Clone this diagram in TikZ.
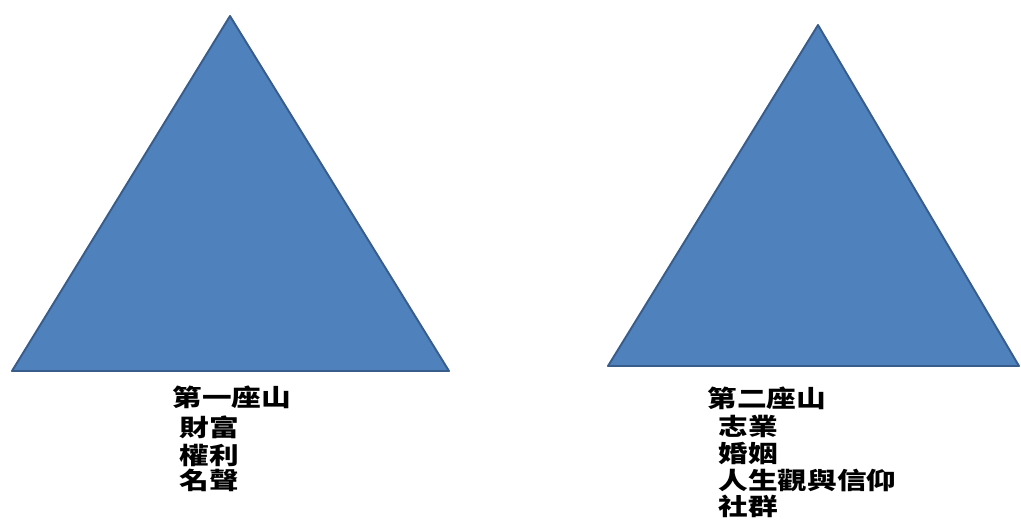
\documentclass[tikz,border=0pt]{standalone}
\usepackage{fontspec}
\newfontfamily\cjk{Noto Sans CJK TC}
\definecolor{hillfill}{HTML}{4F81BD}
\definecolor{hillline}{HTML}{385D8A}

\begin{document}
\begin{tikzpicture}[x=0.02cm, y=-0.02cm,
    mountain/.style={fill=hillfill, draw=hillline, line width=1.1pt, line join=round},
    hilltext/.style={anchor=west, inner sep=0pt, xscale=1.25, font=\cjk\bfseries\fontsize{13.5pt}{16pt}\selectfont}]
\useasboundingbox (0,0) rectangle (1021,523);

% first mountain
\coordinate (a1) at (230,16);
\coordinate (b1) at (12,371);
\coordinate (c1) at (449,371);
\draw[mountain] (a1) -- (b1) -- (c1) -- cycle;

% second mountain
\coordinate (a2) at (818,25);
\coordinate (b2) at (608,366);
\coordinate (c2) at (1019,366);
\draw[mountain] (a2) -- (b2) -- (c2) -- cycle;

% labels under the first one
\node[hilltext] (first) at (172,397) {第一座山};
\node[hilltext] (wealth) at (179,427) {財富};
\node[hilltext] (power) at (179,455) {權利};
\node[hilltext] (fame) at (179,480) {名聲};

% labels under the second one
\node[hilltext] (second) at (707,398) {第二座山};
\node[hilltext] (career) at (718,426) {志業};
\node[hilltext] (marriage) at (718,454) {婚姻};
\node[hilltext] (faith) at (718,480) {人生觀與信仰};
\node[hilltext] (community) at (718,506) {社群};

\end{tikzpicture}
\end{document}
